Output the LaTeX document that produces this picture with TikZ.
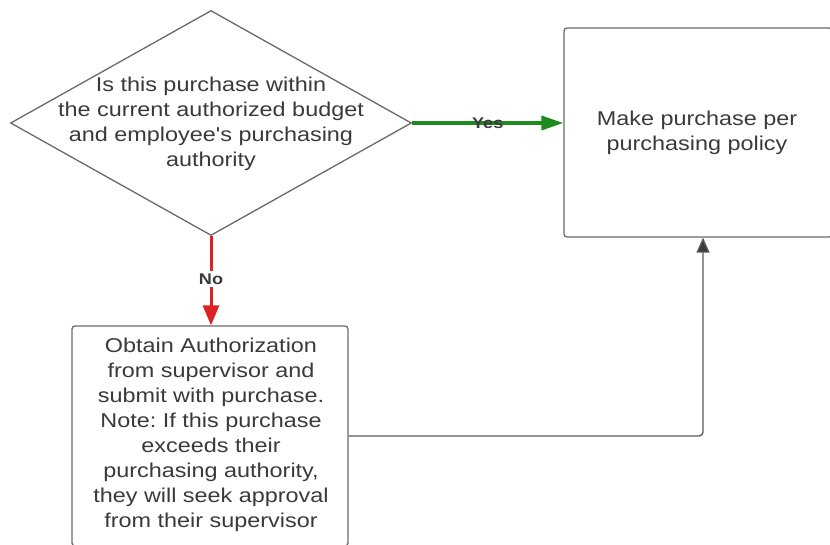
\documentclass[tikz,border=0pt]{standalone}
\usepackage{fontspec}
\usetikzlibrary{shapes.geometric,arrows.meta}
\newfontfamily\flowfont[FakeStretch=1.17]{Liberation Sans}
\definecolor{txtgray}{HTML}{3A3A3A}
\definecolor{edgegray}{HTML}{6A6A6A}
\definecolor{linkgray}{HTML}{5A5A5A}
\definecolor{yesgreen}{RGB}{28,138,28}
\definecolor{nored}{RGB}{222,34,34}
\tikzset{
  procbox/.style={draw=edgegray, line width=1.3pt, rounded corners=3pt, inner sep=0pt},
  flowtext/.style={text=txtgray, align=center, font=\flowfont\fontsize{20}{25}\selectfont\frenchspacing},
  edgelabel/.style={text=txtgray, font=\flowfont\bfseries\fontsize{15.5}{17}\selectfont, inner sep=1pt},
  yesarrow/.style={draw=yesgreen, line width=3.5pt, -{Triangle[length=22pt,width=14pt]}},
  noarrow/.style={draw=nored, line width=3pt, -{Triangle[length=20pt,width=16pt]}},
  linkarrow/.style={draw=linkgray, line width=1.4pt, rounded corners=4pt,
    -{Triangle[length=15pt,width=13pt,fill=txtgray]}},
}
\begin{document}
\begin{tikzpicture}[x=1pt,y=-1pt]
  \useasboundingbox (0,0) rectangle (830,544);
  \clip (0,0) rectangle (830,544);
  \fill[white] (0,0) rectangle (830,544);

  % decision
  \node[draw=edgegray, line width=1.3pt, diamond, inner sep=0pt,
        minimum width=401pt, minimum height=225pt] (diam) at (211,123) {};
  \node[flowtext] (qtext) at (211,124) {Is this purchase within\\the current authorized budget\\and employee's purchasing\\authority};

  % outcome boxes
  \node[procbox, minimum width=268pt, minimum height=209pt] (rbox) at (698,132.5) {};
  \node[flowtext] (rtext) at (697,133) {Make purchase per\\purchasing policy};

  \node[procbox, minimum width=276pt, minimum height=220pt] (bbox) at (210,436) {};
  \node[flowtext] (btext) at (211,435) {Obtain Authorization\\from supervisor and\\submit with purchase.\\Note: If this purchase\\exceeds their\\purchasing authority,\\they will seek approval\\from their supervisor};

  % connectors
  \draw[yesarrow] (diam.east) -- (rbox.west |- diam.east)
    node[edgelabel, pos=0.5] (yeslbl) {Yes};
  \draw[noarrow] (diam.south) -- (diam.south |- bbox.north)
    node[edgelabel, fill=white, pos=0.48, inner sep=3pt] (nolbl) {No};
  \draw[linkarrow] (bbox.east) -| ([xshift=5pt]rbox.south);
\end{tikzpicture}
\end{document}
